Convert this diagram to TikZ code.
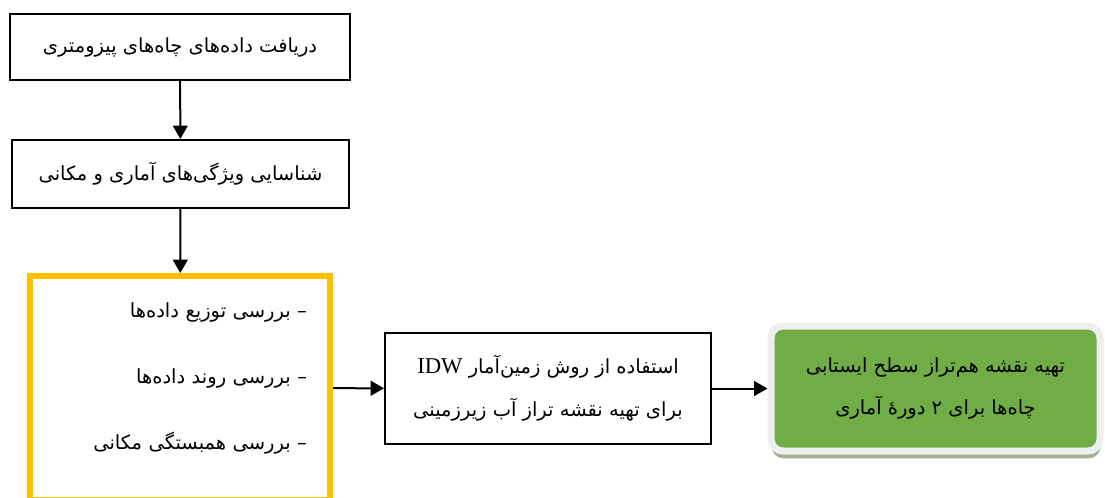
\documentclass[tikz,border=0pt]{standalone}
\usepackage{fontspec}
\setmainfont{Liberation Serif}
\newfontfamily\persian[Script=Arabic]{DejaVu Sans}
\TeXXeTstate=1
\usetikzlibrary{arrows.meta,shadows}
\definecolor{listrim}{HTML}{FFC000}
\definecolor{mapfill}{HTML}{70AD47}
\definecolor{maprim}{HTML}{EFEFEF}
\definecolor{mapshade}{HTML}{A2B293}
\begin{document}
\begin{tikzpicture}[x=0.75pt,y=-0.75pt,
    stage/.style={draw,line width=1.5pt,align=center,
      font=\persian\fontsize{14.6}{32}\selectfont},
    checklist/.style={draw=listrim,line width=4.5pt,align=right,
      text width=190.5pt,text depth=117.5pt,
      font=\persian\fontsize{14.6}{49.5}\selectfont},
    flow/.style={line width=1.5pt,-{Triangle[length=10pt,width=11pt]}}]
  \useasboundingbox (0,0) rectangle (1105,497);
  \clip (0,0) rectangle (1105,497);
  \draw
    (180,47) node[stage,minimum width=255pt,minimum height=49.5pt] (wells)
      {\beginR دریافت داده‌های چاه‌های پیزومتری\endR}
    (180.5,174) node[stage,minimum width=252.75pt,minimum height=51pt] (stats)
      {\beginR شناسایی ویژگی‌های آماری و مکانی\endR}
    (180,388) node[checklist,minimum width=225pt,minimum height=168pt] (checks)
      {\beginR – بررسی توزیع داده‌ها\endR\\
       \beginR – بررسی روند داده‌ها\endR\\
       \beginR – بررسی همبستگی مکانی\endR}
    (548,388.5) node[stage,minimum width=244.5pt,minimum height=83.25pt] (idw)
      {\beginR استفاده از روش زمین‌آمار {\rmfamily\fontsize{17}{32}\selectfont\beginL IDW\endL}\endR\\
       \beginR برای تهیه نقشه تراز آب زیرزمینی\endR}
    (935.5,388.5) node[stage,draw=maprim,fill=mapfill,line width=5.25pt,
      rounded corners=9pt,minimum width=246.75pt,minimum height=93.75pt,
      drop shadow={shadow xshift=0.5pt,shadow yshift=-5.5pt,fill=mapshade,opacity=1}] (map)
      {\beginR تهیه نقشه هم‌تراز سطح ایستابی\endR\\
       \beginR چاه‌ها برای ۲ دورهٔ آماری\endR};
  \begin{scope}[flow]
    \draw (wells) to (stats);
    \draw (stats) to (checks);
    \draw (checks) to (idw);
    \draw (idw) to (map);
  \end{scope}
\end{tikzpicture}
\end{document}
